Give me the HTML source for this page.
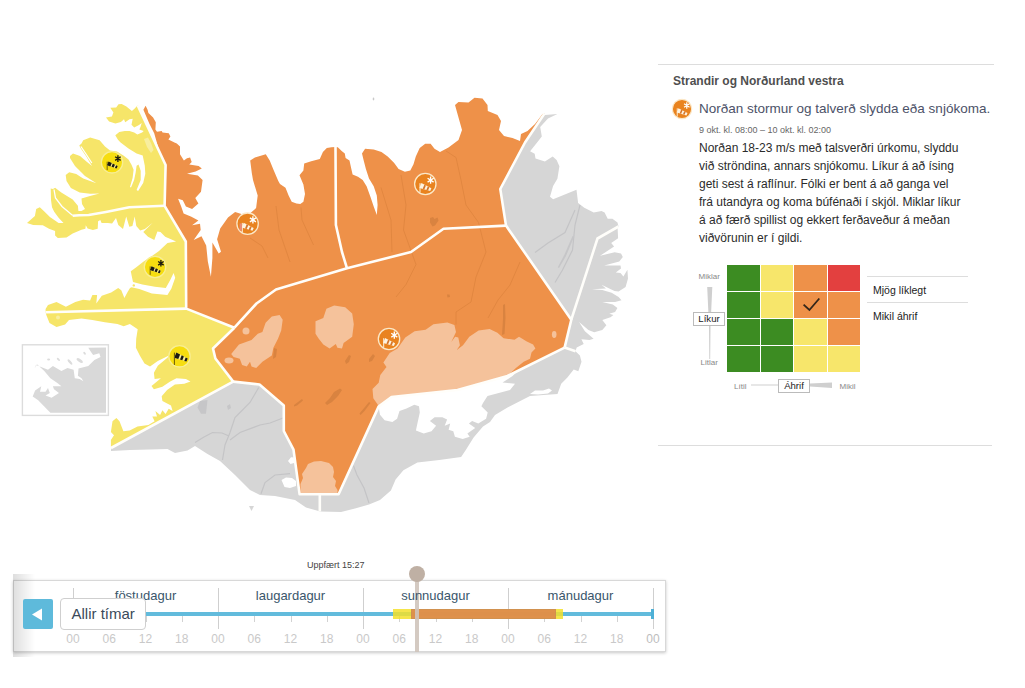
<!DOCTYPE html>
<html><head><meta charset="utf-8">
<style>
html,body{margin:0;padding:0;background:#fff;}
body{width:1025px;height:688px;position:relative;overflow:hidden;font-family:"Liberation Sans",sans-serif;}
#map{position:absolute;left:0;top:0;}
.t{position:absolute;white-space:nowrap;}
.hr{position:absolute;height:1px;background:#dddddd;}
.cell{position:absolute;width:32.7px;height:26px;}
.g{background:#3c8c22}.y{background:#f7e66b}.o{background:#ee9149}.r{background:#e3403f}
.day{position:absolute;top:588px;font-size:13px;color:#3a566b;width:145px;text-align:center;}
.hrl{position:absolute;top:631.5px;font-size:12px;color:#c9c9c9;width:30px;text-align:center;}
.sep{position:absolute;top:588px;width:1px;height:41px;background:#cfcfcf;}
.tick{position:absolute;top:616px;width:1px;height:6px;background:#d2d2d2;}
</style></head><body>
<svg id="map" width="1025" height="688" viewBox="0 0 1025 688">
<defs>
<g id="sockY2"><circle r="10.7" fill="#f6dd10" stroke="#f8ee94" stroke-width="1.3"/><rect x="-5.6" y="-3.7" width="0.9" height="12.4" fill="#5a4c05"/><path d="M-3.14,-3.69 L8.24,2.13 L6.96,5.27 L-5.26,1.49Z" fill="#f8ee94"/><path d="M-3.14,-3.69 L0.61,-1.77 L-1.22,2.74 L-5.26,1.49Z M2.21,-0.96 L4.37,0.15 L2.81,3.99 L0.49,3.27Z M6.19,1.08 L8.24,2.13 L6.96,5.27 L4.76,4.59Z" fill="#1c1a10"/></g>
<g id="sockY"><circle r="10.7" fill="#f6dd10" stroke="#f8ee94" stroke-width="1.3"/><rect x="-5.3" y="-0.6" width="0.9" height="8.4" fill="#6b5a05"/><path d="M-3.50,-0.84 L5.71,3.75 L4.69,6.25 L-5.10,3.04Z" fill="#f8ee94"/><path d="M-3.50,-0.84 L-0.19,0.81 L-1.57,4.20 L-5.10,3.04Z M0.83,1.32 L2.95,2.37 L1.75,5.29 L-0.50,4.55Z M4.05,2.92 L5.71,3.75 L4.69,6.25 L2.93,5.67Z" fill="#1c1a10"/></g>
<g id="flakeK"><path d="M-0.00,-3.30 L0.00,3.30 M-2.77,-1.80 L2.77,1.80 M2.77,-1.80 L-2.77,1.80" stroke="#1c1a10" stroke-width="1.35" fill="none"/></g>
<g id="sockO"><circle r="10.7" fill="#e9831f" stroke="#fbe8c8" stroke-width="1.3"/><rect x="-5.8" y="-0.8" width="1.0" height="9.2" fill="#fdf1dc"/><path d="M-3.93,-0.91 L6.06,4.31 L4.94,7.09 L-5.87,3.91Z" fill="#fdf3e0"/><path d="M-0.93,0.66 L0.67,1.49 L-0.90,5.37 L-2.63,4.86Z M2.47,2.43 L4.06,3.27 L2.78,6.45 L1.05,5.95Z" fill="#d5762c"/><path d="M5.30,-7.40 L5.30,-0.20 M2.28,-5.76 L8.32,-1.84 M8.32,-5.76 L2.28,-1.84" stroke="#ffffff" stroke-width="1.35" fill="none"/></g>
</defs>
<g fill="#d6d6d6">
<path d="M544.5,113.5 L545.0,115.0 L557.4,113.9 L548.0,118.6 L540.2,127.1 L541.8,136.5 L536.3,143.5 L530.1,151.3 L534.7,153.7 L535.5,158.4 L544.9,161.5 L552.7,156.5 L556.6,159.9 L559.4,166.2 L557.4,178.7 L553.1,185.9 L550.0,196.8 L553.1,199.2 L576.5,189.8 L578.1,203.1 L584.3,207.8 L593.7,212.4 L601.5,210.9 L604.6,212.4 L607.7,218.7 L612.4,218.7 L617.5,222.5 L618.5,226.5 L617.6,227.8 L618.1,238.3 L611.2,242.9 L614.1,246.4 L608.8,249.9 L600.1,255.7 L614.7,252.2 L621.0,253.4 L622.8,256.9 L619.3,261.5 L604.2,265.6 L620.5,265.6 L621.0,268.5 L615.8,272.6 L620.5,273.1 L623.4,276.6 L627.4,269.7 L628.0,278.4 L625.6,287.0 L618.6,291.6 L614.5,291.0 L601.5,284.7 L606.0,288.5 L591.9,289.3 L602.3,289.9 L611.6,292.8 L618.6,296.9 L621.5,300.3 L615.1,302.1 L602.3,302.1 L612.8,304.4 L617.4,307.9 L615.1,312.0 L609.3,313.7 L613.4,314.9 L610.5,317.2 L602.3,320.1 L606.4,325.3 L602.3,330.0 L594.2,332.3 L588.4,330.0 L579.1,321.9 L584.9,331.2 L593.6,338.7 L589.5,339.9 L581.4,339.3 L583.7,344.0 L576.7,347.4 L575.5,351.2 L564.6,347.6 L571.3,319.7 L506.0,225.6 L500.3,189.0 L525.0,142.5Z"/>
<path d="M564.6,347.6 L575.5,351.2 L579.9,355.6 L581.5,361.8 L578.3,371.2 L573.7,369.6 L567.4,377.4 L561.2,383.7 L557.5,394.0 L530.0,396.0 L507.5,407.5 L495.0,415.0 L490.0,421.9 L483.0,426.5 L473.6,437.5 L465.8,450.0 L461.1,457.0 L439.3,460.1 L417.4,462.4 L403.4,470.2 L395.6,479.6 L390.9,490.5 L380.0,499.9 L369.0,504.6 L355.0,508.5 L341.0,512.0 L319.8,511.5 L318.5,511.0 L306.0,507.5 L295.0,500.0 L275.0,496.0 L260.0,495.0 L250.0,490.0 L235.0,475.0 L220.0,461.0 L207.5,454.0 L195.0,446.0 L187.5,450.5 L175.0,453.0 L167.5,449.0 L150.0,449.5 L130.0,450.0 L111.0,451.0 L111.0,448.0 L233.2,381.6 L259.5,384.5 L283.8,405.5 L283.8,431.0 L293.5,449.6 L299.6,494.2 L338.6,494.2 L378.6,406.6 L391.5,397.0 L457.5,390.0 L507.5,376.0Z"/>
<path d="M249,506 L254,506 L251.5,511Z"/>
<ellipse cx="373.5" cy="99" rx="0.8" ry="1.4" fill="#c9c9c9"/>
</g>
<g fill="none" stroke="#c4c4c6" stroke-width="1.2">
<path d="M258.7,387.5 L250.0,402.5 L235.0,417.5 L230.0,432.5 L225.0,445.0 L222.5,460.0"/>
<path d="M283.0,418.0 L270.0,423.0 L260.0,425.0 L240.0,432.5 L230.0,440.0"/>
<path d="M195.0,442.5 L204.0,437.0 L212.5,432.5 L222.0,433.0 L229.0,436.0"/>
<path d="M290.0,473.7 L275.0,475.0 L265.0,482.5 L261.0,493.7"/>
<path d="M580.0,205.0 L575.0,225.0 L572.5,250.0 L562.5,270.0 L555.0,282.5"/>
<path d="M575.0,210.0 L565.0,232.5 L548.0,243.0 L535.0,252.5"/>
<path d="M353.4,465.6 L357.0,475.0 L364.0,488.0 L369.0,503.0"/>
</g>
<path fill="#c6c6c8" d="M200,401 L207.5,400 L206,413.7 L201,413.7 L197.5,407.5Z M227,406 l3,-2 l1,4 l-3,2Z M572.5,236 L574,237 L566,256 L559,268 L557.8,267.3 L564.5,254.5Z"/>
<path fill="#fff" d="M378.6,406.6 L391.5,397.0 L457.5,390.0 L507.5,376.0 L519.0,369.6 L512.5,376.0 L502.5,382.5 L515.0,383.7 L510.0,390.0 L487.5,396.0 L483.0,403.1 L481.4,406.2 L487.7,412.5 L486.1,418.7 L478.3,423.4 L472.1,421.1 L468.9,423.4 L475.2,428.1 L467.4,433.6 L469.7,436.7 L462.7,439.0 L454.9,436.7 L453.3,431.2 L448.6,429.7 L450.2,423.4 L444.7,425.8 L447.1,419.5 L442.4,417.2 L434.6,417.2 L429.9,421.1 L436.1,425.8 L431.5,431.2 L423.7,433.6 L415.9,430.4 L417.4,423.4 L419.8,412.5 L419.0,406.2 L414.3,404.7 L406.5,408.6 L399.5,410.9 L397.1,418.7 L392.4,421.9 L384.6,420.3 L380.0,414.8Z"/>
<path fill="#fff" d="M288,461 L291,457.2 L294.5,457.5 L294,463 L290.5,464Z M281.5,480 L286,477.5 L292,478 L296,481 L296,486 L290,488 L284.5,487Z M530,394 l5,-3.5 l8,0 l6,-2 l3,2 l-4,3 l-10,1Z"/>
<path fill="#ee9149" d="M233.2,381.6 L215.4,358.5 L213.0,348.5 L234.4,327.7 L186.2,308.6 L185.8,241.5 L164.6,205.8 L165.6,165.0 L159.5,152.0 L154.2,133.3 L149.5,123.9 L143.4,109.8 L145.6,105.8 L147.6,109.8 L148.4,112.9 L153.1,117.6 L155.8,122.3 L155.4,129.4 L157.0,131.8 L161.7,131.0 L162.5,132.5 L168.8,133.3 L170.4,136.5 L168.4,139.6 L175.0,142.7 L176.8,143.4 L180.0,146.5 L180.0,154.3 L183.9,160.6 L187.0,158.2 L190.1,157.4 L191.7,162.1 L189.3,164.5 L198.7,166.0 L201.8,168.4 L195.6,171.5 L187.0,173.8 L197.9,175.4 L202.6,180.1 L201.0,191.8 L195.3,198.0 L198.4,203.4 L192.1,208.9 L185.9,206.5 L182.8,200.3 L178.1,198.7 L181.2,206.5 L183.6,213.6 L191.4,216.7 L198.4,220.6 L192.1,225.3 L200.0,223.7 L200.7,230.0 L193.7,240.1 L201.5,236.2 L206.2,245.6 L207.8,261.2 L210.9,276.8 L212.4,258.0 L212.4,242.4 L218.7,253.4 L221.0,251.8 L217.1,239.3 L220.2,228.4 L228.0,217.5 L235.1,212.0 L243.0,214.5 L249.9,213.6 L256.1,208.1 L257.7,195.6 L253.0,180.0 L251.8,173.0 L250.2,160.6 L254.9,157.4 L265.8,154.3 L269.7,160.6 L273.6,169.9 L278.3,180.9 L280.0,183.9 L285.5,187.8 L288.6,195.6 L291.7,201.8 L296.4,203.4 L300.3,204.1 L303.4,201.8 L305.0,194.0 L303.4,184.6 L299.5,175.3 L303.4,170.6 L304.2,163.6 L311.2,161.2 L319.8,158.9 L322.9,151.9 L326.8,148.0 L331.5,147.2 L335.5,147.0 L337.8,147.2 L341.7,151.0 L344.8,153.4 L345.6,158.1 L349.5,160.4 L351.0,167.5 L352.6,174.5 L358.0,176.8 L362.7,180.0 L366.6,186.2 L370.5,197.1 L373.7,206.5 L376.8,215.1 L377.6,204.9 L376.8,195.6 L373.7,186.2 L369.0,178.4 L365.9,169.0 L363.5,159.7 L362.0,153.4 L365.1,148.7 L373.7,149.5 L381.5,151.9 L387.7,156.5 L394.0,162.8 L398.6,169.0 L404.9,171.8 L410.3,170.6 L413.5,164.3 L415.8,156.5 L419.7,148.0 L425.2,143.7 L430.6,143.7 L434.5,148.7 L440.0,151.9 L448.5,147.5 L458.5,140.0 L462.0,130.0 L458.5,117.5 L455.0,105.0 L458.5,102.0 L468.5,102.5 L474.5,97.8 L482.5,98.5 L487.5,105.0 L487.8,111.0 L497.5,115.0 L501.0,121.0 L499.0,130.0 L504.0,136.0 L512.5,138.0 L520.0,141.0 L521.0,134.0 L527.5,131.0 L535.0,124.0 L542.5,114.0 L544.5,113.5 L525.0,142.5 L500.3,189.0 L506.0,225.6 L571.3,319.7 L564.6,347.6 L507.5,376.0 L457.5,390.0 L391.5,397.0 L378.6,406.6 L338.6,494.2 L299.6,494.2 L293.5,449.6 L283.8,431.0 L283.8,405.5 L259.5,384.5Z"/>
<g fill="#f5c29b">
<path d="M231.2,354.0 L239.0,344.6 L251.5,340.0 L257.8,333.7 L262.4,332.1 L265.6,322.8 L271.8,316.5 L279.6,315.0 L282.7,319.7 L281.2,330.6 L278.1,338.4 L273.4,347.8 L271.8,355.6 L262.4,361.8 L256.2,368.0 L251.5,366.5 L250.0,361.8 L246.8,366.5 L242.1,364.9 L239.8,358.7 L233.6,357.1Z"/>
<path d="M315.5,321.2 L323.3,318.1 L326.4,308.7 L334.2,305.6 L345.2,307.2 L352.2,313.4 L353.8,324.3 L352.2,336.8 L343.6,343.1 L342.0,348.5 L337.4,347.8 L335.8,343.9 L329.6,348.5 L323.3,344.6 L318.6,338.4 L315.5,333.7Z"/>
<path d="M378.7,406.1 L373.3,398.3 L372.5,389.0 L378.7,382.7 L380.3,374.9 L386.5,367.1 L383.4,362.4 L389.7,353.1 L397.5,348.4 L405.3,337.5 L414.6,331.2 L425.6,329.7 L433.4,324.2 L447.4,322.6 L454.4,325.0 L456.0,332.0 L451.3,342.1 L455.2,336.7 L458.3,337.5 L459.9,345.3 L456.8,350.0 L463.0,345.3 L469.3,336.7 L478.6,330.4 L489.6,328.9 L497.4,332.8 L503.6,338.2 L514.5,339.8 L519.0,336.8 L526.8,341.5 L533.1,344.6 L535.4,348.5 L531.5,352.4 L530.0,358.7 L523.7,361.8 L515.9,368.0 L507.5,376.0 L457.5,390.0 L391.5,397.0Z"/>
<path d="M300.5,493.5 L300.5,484.0 L303.0,478.0 L302.0,474.0 L306.0,468.0 L308.0,464.0 L314.0,461.5 L321.0,461.0 L329.0,463.0 L333.0,467.0 L334.0,472.0 L333.0,477.0 L336.0,481.0 L335.0,486.0 L337.5,490.0 L337.5,493.5Z"/>
<circle cx="246" cy="331" r="3.5"/><ellipse cx="229" cy="360.5" rx="4.5" ry="3"/><ellipse cx="554.2" cy="334.5" rx="2.3" ry="3.4"/>
</g>
<g fill="none" stroke="#e0863f" stroke-width="0.9">
<path d="M446.0,151.0 L456.0,157.5 L461.0,180.0 L466.0,205.0 L478.5,222.5 L486.0,252.0 L476.0,277.0 L471.0,302.0 L456.0,312.0 L456.0,324.5"/>
<path d="M401.0,175.0 L406.0,205.0 L403.5,230.0 L416.0,264.5 L406.0,284.5 L396.0,297.0"/>
<path d="M381.0,187.5 L391.0,220.0 L392.0,252.0"/>
<path d="M301.0,207.5 L302.0,220.0 L313.5,245.0"/>
<path d="M276.0,206.0 L279.0,230.0 L290.0,262.0"/>
<path d="M520.0,262.0 L510.0,285.0 L498.0,300.0 L488.0,318.0"/>
<path d="M250.0,238.0 L262.0,246.0 L268.0,258.0"/>
</g>
<path fill="#d98340" d="M430,218 l3,-1 l1.5,2 l3,-1.5 l1,3 l-3.5,5 l-2.5,1 l-2.5,-4Z M503,305 l2,-1 l0.5,14 l-1,16 l-2.5,1 l1,-16Z M340,388.5 l2,1.5 l-4,6 l-6,6 l-5,3 l-2,-2 l5,-5 l4,-6Z M349,355 l2,1 l-2,6 l-3,2 l-1,-3Z M373,354 l2,2 l-3,5 l-3,1 l0,-3Z M274,348 l3,1 l-1,8 l-3,2Z M369,402 l1.5,1 l-6,8 l-4,4 l-1,-1.5 l5,-6Z M302,399 l1,1.5 l-6,5 l-3,1 l0,-1.5Z M447,294.5 l2.5,0 l0.5,2.5 l-2.5,0.5Z"/>
<path fill="#f6e569" d="M137.6,105.2 L165.6,165.0 L164.6,205.8 L185.8,241.5 L186.2,308.6 L234.4,327.7 L213.0,348.5 L215.4,358.5 L233.2,381.6 L111.0,448.0 L110.9,446.1 L110.9,439.9 L114.0,435.2 L110.9,432.1 L112.5,421.2 L116.4,418.0 L119.5,421.2 L123.4,431.3 L129.7,430.5 L137.5,426.6 L148.4,425.1 L154.6,421.2 L152.3,416.5 L157.0,416.5 L155.4,411.0 L160.1,414.9 L162.4,410.2 L165.6,414.1 L168.7,408.7 L172.6,411.0 L171.0,405.6 L162.4,400.9 L161.7,396.2 L167.1,390.0 L174.9,384.5 L184.3,383.7 L190.5,381.4 L185.9,379.0 L176.5,378.2 L170.2,381.4 L162.4,386.8 L153.9,389.2 L151.5,386.0 L160.9,378.2 L154.6,379.0 L153.9,372.8 L157.8,365.8 L167.1,358.0 L170.0,355.0 L157.8,361.1 L150.0,366.5 L144.5,363.4 L139.8,355.6 L135.9,347.8 L136.2,338.7 L137.7,329.3 L129.9,323.9 L123.7,326.2 L117.4,323.9 L104.9,322.3 L92.4,320.0 L81.5,318.4 L69.0,320.0 L65.1,324.6 L56.5,327.0 L49.5,323.1 L46.4,315.3 L45.6,312.3 L45.6,309.0 L48.0,305.1 L56.5,302.0 L65.9,306.7 L75.3,302.0 L83.1,299.7 L90.1,300.4 L92.4,295.0 L97.1,295.0 L96.3,303.6 L101.8,295.8 L111.2,292.6 L118.2,288.0 L121.3,290.3 L124.4,298.1 L127.6,291.9 L130.0,288.0 L131.5,287.3 L139.3,289.0 L151.8,293.4 L167.4,295.0 L171.3,288.7 L175.2,277.8 L173.6,273.1 L170.5,279.4 L165.8,288.0 L154.9,286.8 L142.4,284.5 L133.0,282.0 L131.5,275.0 L130.8,271.2 L136.3,267.3 L143.3,261.8 L152.7,255.6 L159.0,251.0 L167.5,243.0 L176.1,241.5 L165.2,236.8 L160.5,232.1 L157.4,231.4 L154.3,240.0 L148.0,236.8 L143.3,232.1 L152.7,222.8 L144.9,229.0 L140.2,230.6 L136.3,225.9 L134.7,216.5 L132.4,225.9 L129.3,226.7 L126.2,216.5 L123.0,229.0 L118.3,225.1 L116.0,218.1 L112.1,223.6 L107.8,223.1 L101.6,223.1 L100.3,220.0 L98.1,221.3 L97.7,228.8 L92.9,230.1 L87.6,228.4 L85.8,225.3 L85.4,228.8 L81.5,229.7 L72.7,233.6 L66.5,237.6 L57.8,238.0 L55.1,235.4 L55.1,231.0 L49.0,228.8 L42.8,225.3 L33.2,224.9 L27.0,223.1 L34.9,216.1 L36.2,209.0 L39.8,207.3 L44.6,211.7 L49.9,216.9 L58.6,223.1 L63.5,223.1 L58.6,217.8 L54.2,211.7 L52.0,207.3 L51.0,200.0 L50.7,188.5 L53.0,189.0 L55.1,187.7 L61.3,192.5 L72.7,199.5 L77.9,205.7 L78.4,211.0 L81.5,211.0 L85.0,209.0 L82.0,204.0 L81.5,198.6 L90.0,196.0 L99.5,193.4 L90.2,193.8 L79.7,192.5 L70.9,188.1 L66.5,181.1 L65.7,174.9 L69.2,172.3 L76.2,174.0 L83.2,178.4 L96.4,183.3 L85.0,176.0 L75.0,166.0 L70.0,158.0 L70.0,155.9 L73.0,153.5 L80.0,156.0 L87.0,162.0 L92.0,166.0 L86.0,156.0 L80.5,148.0 L79.3,145.5 L81.5,143.5 L83.2,140.3 L90.2,137.5 L99.6,140.3 L105.0,146.5 L110.0,150.5 L117.0,151.5 L123.4,155.5 L128.5,159.6 L131.5,164.7 L133.6,169.8 L132.6,177.9 L130.0,187.1 L131.0,187.6 L134.1,179.9 L135.6,172.8 L136.6,165.7 L138.5,164.5 L140.7,170.8 L140.7,179.9 L136.6,190.1 L138.1,191.1 L143.2,183.0 L145.3,173.8 L144.8,165.7 L142.7,155.5 L136.6,153.5 L128.5,148.4 L120.3,142.3 L117.8,139.6 L115.3,135.2 L119.3,132.1 L124.8,131.0 L129.5,131.0 L134.2,132.5 L137.4,134.5 L142.1,132.5 L143.7,131.0 L139.3,129.4 L140.5,127.0 L141.7,123.1 L139.0,125.1 L134.2,127.4 L131.5,124.7 L132.7,118.8 L129.5,119.2 L125.2,122.3 L124.0,119.2 L120.9,121.9 L115.4,123.5 L109.1,121.5 L106.0,117.6 L111.9,116.4 L113.4,112.5 L110.3,107.8 L116.2,107.4 L118.5,104.3 L121.7,103.9 L126.4,106.6 L131.9,111.0 L135.0,108.2Z"/>
<circle cx="58" cy="317.6" r="2" fill="#f8ee9e"/>
<circle cx="133.8" cy="285.4" r="1.2" fill="#f6e569"/>
<path fill="none" stroke="#fff" stroke-width="1.3" d="M54,189.5 L55.5,198 L62,206.5 L72.7,215.6 M80.9,146.5 L86,154 L91.8,163"/>
<path fill="#f8ee9e" d="M144,139 L148,137.5 L151,143 L153.5,150 L151,153 L147,147Z"/>
<g fill="none" stroke="#fffefa" stroke-width="2.6" stroke-linejoin="round" stroke-linecap="butt">
<path d="M137.6,105.2 L165.6,165.0 L164.6,205.8 L185.8,241.5 L186.2,308.6 L234.4,327.7"/>
<path d="M164.6,205.8 L129.3,207.2 L105.9,211.9 L88.7,215.0 L79.3,215.3 L72.7,215.8"/>
<path d="M186.2,308.6 L45.6,312.3"/>
<path d="M234.4,327.7 L213.0,348.5 L215.4,358.5 L233.2,381.6 L111.0,448.0"/>
<path d="M234.4,327.7 L256.5,303.5 L276.0,289.5 L347.0,268.3 L411.0,252.0 L443.5,228.8 L506.0,225.6"/>
<path d="M347.0,268.3 L342.0,252.0 L335.9,225.0 L335.5,147.0"/>
<path d="M506.0,225.6 L500.3,189.0 L525.0,142.5 L544.5,113.5"/>
<path d="M506.0,225.6 L571.3,319.7 L564.6,347.6"/>
<path d="M571.3,319.7 L597.5,238.5 L618.5,226.5"/>
<path d="M564.6,347.6 L575.5,351.2"/>
<path d="M564.6,347.6 L507.5,376.0 L457.5,390.0 L391.5,397.0 L378.6,406.6 L338.6,494.2 L299.6,494.2 L293.5,449.6 L283.8,431.0 L283.8,405.5 L259.5,384.5 L233.2,381.6"/>
<path d="M319.8,495.0 L319.8,511.5"/>
</g>
<rect x="22.4" y="344.8" width="86" height="70.6" fill="#fff" stroke="#dcdcdc" stroke-width="1.4"/>
<path fill="#d9d9d9" d="M88.3,347.8 L106.0,347.5 L106.0,412.7 L50.4,412.7 L44.3,406.4 L38.2,400.3 L32.7,396.6 L35.1,390.5 L41.3,386.2 L40.0,391.7 L45.5,391.7 L48.0,388.0 L49.8,393.0 L45.5,395.4 L51.6,397.8 L59.0,393.0 L54.0,389.3 L52.9,386.2 L61.4,386.2 L57.7,383.2 L50.4,378.3 L44.3,371.0 L37.0,364.3 L34.5,368.5 L36.0,365.0 L48.0,369.7 L52.9,366.1 L61.4,371.0 L67.5,367.9 L73.6,369.7 L74.8,378.3 L79.7,378.9 L83.4,381.3 L81.5,378.3 L77.9,375.8 L78.5,368.5 L88.3,366.1 L94.4,360.0 L100.5,356.9 L99.3,353.3 L93.1,355.1 L90.7,351.4Z"/>
<g fill="#dcdcdc"><ellipse cx="79.7" cy="360.6" rx="3.6" ry="1.5" transform="rotate(35 79.7 360.6)"/><ellipse cx="70" cy="362" rx="3.4" ry="1.2" transform="rotate(50 70 362)"/><ellipse cx="58.4" cy="359.4" rx="2" ry="1" transform="rotate(45 58.4 359.4)"/><ellipse cx="48.6" cy="359.4" rx="1.5" ry="1"/><ellipse cx="84.6" cy="353.3" rx="1.6" ry="1" transform="rotate(50 84.6 353.3)"/></g>
<use href="#sockY" x="112" y="162.3"/>
<use href="#flakeK" x="117.9" y="158.60000000000002"/>
<use href="#sockY" x="155" y="267"/>
<use href="#flakeK" x="160.9" y="263.3"/>
<use href="#sockY2" x="179.5" y="356.3"/>
<use href="#sockO" x="247.6" y="223.7"/>
<use href="#sockO" x="425.3" y="184"/>
<use href="#sockO" x="389" y="339"/>
<rect x="239.6" y="223.5" width="2.2" height="7" fill="#ea8a78"/>
</svg>

<!-- right panel -->
<div class="hr" style="left:658px;top:64px;width:336px;"></div>
<div class="t" style="left:673px;top:74px;font-size:12px;font-weight:bold;color:#4f4f4f;">Strandir og Norðurland vestra</div>
<svg style="position:absolute;left:668.5px;top:96.4px" width="26" height="26" viewBox="-14.4 -14.4 28.8 28.8"><use href="#sockO"/></svg>
<div class="t" style="left:699px;top:101px;font-size:13.5px;color:#4c5268;">Norðan stormur og talverð slydda eða snjókoma.</div>
<div class="t" style="left:699px;top:125px;font-size:9px;color:#666;">9 okt. kl. 08:00 – 10 okt. kl. 02:00</div>
<div class="t" style="left:699px;top:139px;font-size:12px;line-height:18px;color:#2b2b2b;white-space:normal;width:290px;">Norðan 18-23 m/s með talsverðri úrkomu, slyddu<br>við ströndina, annars snjókomu. Líkur á að ísing<br>geti sest á raflínur. Fólki er bent á að ganga vel<br>frá utandyra og koma búfénaði í skjól. Miklar líkur<br>á að færð spillist og ekkert ferðaveður á meðan<br>viðvörunin er í gildi.</div>

<!-- matrix -->
<div id="mx" style="position:absolute;left:0;top:0;">
<div class="cell g" style="left:727px;top:265.2px"></div><div class="cell y" style="left:760.6px;top:265.2px"></div><div class="cell o" style="left:794.2px;top:265.2px"></div><div class="cell r" style="left:827.8px;top:265.2px"></div>
<div class="cell g" style="left:727px;top:292.1px"></div><div class="cell y" style="left:760.6px;top:292.1px"></div><div class="cell o" style="left:794.2px;top:292.1px"></div><div class="cell o" style="left:827.8px;top:292.1px"></div>
<div class="cell g" style="left:727px;top:319px"></div><div class="cell g" style="left:760.6px;top:319px"></div><div class="cell y" style="left:794.2px;top:319px"></div><div class="cell o" style="left:827.8px;top:319px"></div>
<div class="cell g" style="left:727px;top:345.9px"></div><div class="cell g" style="left:760.6px;top:345.9px"></div><div class="cell y" style="left:794.2px;top:345.9px"></div><div class="cell y" style="left:827.8px;top:345.9px"></div>
</div>
<svg style="position:absolute;left:690px;top:260px" width="190" height="140" viewBox="690 260 190 140">
 <path d="M707.2,286.9 L712.3,286.9 L710.5,326 L710.2,359 L709.3,359 L709,326Z" fill="#cfcfcf"/>
 <path d="M751,385 L778,385" stroke="#cfcfcf" stroke-width="1"/>
 <path d="M810,383.5 L832,382.5 L832,388 L810,386.5Z" fill="#cfcfcf"/>
 <path d="M803.6,304.7 L809.4,310 L819.3,298.5" fill="none" stroke="#33261a" stroke-width="1.8"/>
</svg>
<div class="t" style="left:698.5px;top:271.5px;font-size:8px;color:#888;">Miklar</div>
<div class="t" style="left:700.5px;top:357.5px;font-size:8px;color:#888;">Litlar</div>
<div class="t" style="left:693px;top:312px;width:30px;height:12.4px;border:1px solid #bbb;background:#fff;font-size:9.6px;line-height:12.4px;text-align:center;color:#222;">Líkur</div>
<div class="t" style="left:734px;top:381.5px;font-size:8px;color:#888;">Lítil</div>
<div class="t" style="left:839.6px;top:381.5px;font-size:8px;color:#888;">Mikil</div>
<div class="t" style="left:778px;top:378.6px;width:30px;height:12.8px;border:1px solid #bbb;background:#fff;font-size:9.6px;line-height:12.8px;text-align:center;color:#222;">Áhrif</div>
<div class="hr" style="left:867px;top:276px;width:101px;"></div>
<div class="t" style="left:873px;top:284.2px;font-size:10.5px;color:#222;">Mjög líklegt</div>
<div class="hr" style="left:867px;top:302px;width:101px;"></div>
<div class="t" style="left:873px;top:310px;font-size:10.5px;color:#222;">Mikil áhrif</div>
<div class="hr" style="left:658px;top:445px;width:334px;"></div>

<!-- timeline -->
<div class="t" style="left:307px;top:560px;font-size:9px;color:#444;">Uppfært 15:27</div>
<div style="position:absolute;left:13px;top:579.5px;width:652.5px;height:72.5px;border:1px solid #d8d8d8;box-shadow:0 1px 3px rgba(0,0,0,0.22);background:#fff;box-sizing:border-box;"></div>
<div style="position:absolute;left:13px;top:574px;width:22px;height:83px;background:linear-gradient(to right,rgba(0,0,0,0.13),rgba(0,0,0,0));"></div>
<div class="sep" style="left:73px"></div><div class="sep" style="left:218px"></div><div class="sep" style="left:363px"></div><div class="sep" style="left:508px"></div><div class="sep" style="left:653px"></div>
<div style="position:absolute;left:73px;top:611.8px;width:581px;height:4px;background:#62bbdc;"></div>
<div class="hrl" style="left:58.0px">00</div>
<div class="tick" style="left:109.2px"></div>
<div class="hrl" style="left:94.2px">06</div>
<div class="tick" style="left:145.5px"></div>
<div class="hrl" style="left:130.5px">12</div>
<div class="tick" style="left:181.8px"></div>
<div class="hrl" style="left:166.8px">18</div>
<div class="hrl" style="left:203.0px">00</div>
<div class="tick" style="left:254.2px"></div>
<div class="hrl" style="left:239.2px">06</div>
<div class="tick" style="left:290.5px"></div>
<div class="hrl" style="left:275.5px">12</div>
<div class="tick" style="left:326.8px"></div>
<div class="hrl" style="left:311.8px">18</div>
<div class="hrl" style="left:348.0px">00</div>
<div class="tick" style="left:399.2px"></div>
<div class="hrl" style="left:384.2px">06</div>
<div class="tick" style="left:435.5px"></div>
<div class="hrl" style="left:420.5px">12</div>
<div class="tick" style="left:471.8px"></div>
<div class="hrl" style="left:456.8px">18</div>
<div class="hrl" style="left:493.0px">00</div>
<div class="tick" style="left:544.2px"></div>
<div class="hrl" style="left:529.2px">06</div>
<div class="tick" style="left:580.5px"></div>
<div class="hrl" style="left:565.5px">12</div>
<div class="tick" style="left:616.8px"></div>
<div class="hrl" style="left:601.8px">18</div>
<div class="hrl" style="left:638.0px;color:#bdbdbd">00</div>
<div style="position:absolute;left:393px;top:608.8px;width:169.6px;height:10.2px;background:#f3e02c;opacity:0.85;"></div>
<div style="position:absolute;left:411px;top:609.2px;width:145px;height:9.4px;background:#de8a4c;border:1px solid #cf8a50;box-sizing:border-box;opacity:0.92;"></div>
<div style="position:absolute;left:651.2px;top:608.6px;width:3.2px;height:10.4px;background:#4eb0d6;"></div>
<div style="position:absolute;left:415px;top:578px;width:4px;height:74px;background:#cfc4bb;opacity:0.9;"></div>
<div style="position:absolute;left:409px;top:566px;width:16px;height:16px;border-radius:8px;background:#bfb0a4;"></div>
<div class="day" style="left:73px">föstudagur</div><div class="day" style="left:218px">laugardagur</div><div class="day" style="left:363px">sunnudagur</div><div class="day" style="left:508px">mánudagur</div>
<div style="position:absolute;left:23.2px;top:599.2px;width:29.4px;height:29.6px;border-radius:2px;background:#5ebadb;"></div>
<svg style="position:absolute;left:23px;top:600px" width="29" height="29"><path d="M9,14.5 L19,8.5 L19,20.5Z" fill="#fff"/></svg>
<div class="t" style="left:60.4px;top:598px;width:83.6px;height:29.6px;border:1px solid #cfcfcf;border-radius:4px;background:#fff;font-size:15px;line-height:29px;text-align:center;color:#3a4a5a;">Allir tímar</div>
</body></html>
